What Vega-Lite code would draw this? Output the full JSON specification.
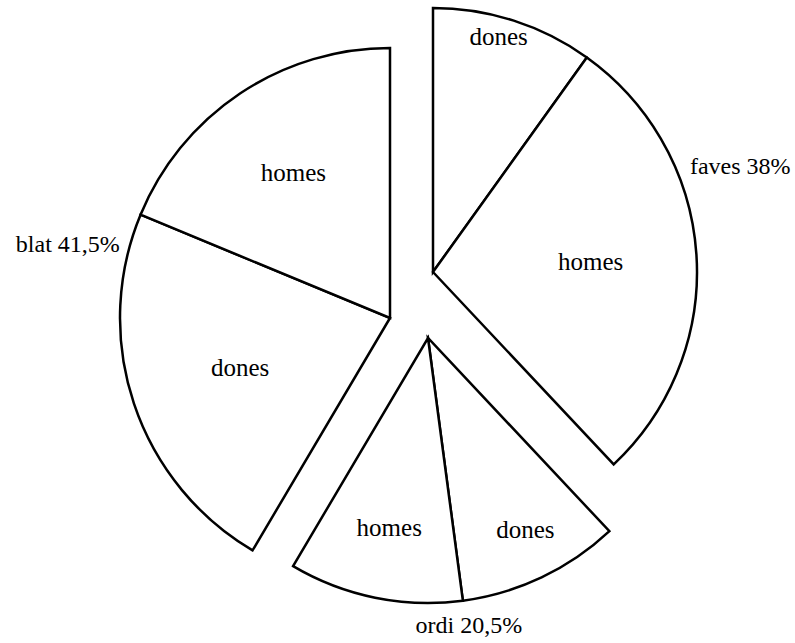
{
  "$schema": "https://vega.github.io/schema/vega-lite/v6.json",
  "width": 795,
  "height": 643,
  "padding": 0,
  "autosize": {"type": "none"},
  "background": "white",
  "config": {"view": {"stroke": null}},
  "datasets": {
    "slices": [
      {"idx": 0, "group": "faves", "sex": "dones", "value": 9.9},
      {"idx": 1, "group": "faves", "sex": "homes", "value": 28.1},
      {"idx": 2, "group": "ordi", "sex": "dones", "value": 9.9},
      {"idx": 3, "group": "ordi", "sex": "homes", "value": 10.6},
      {"idx": 4, "group": "blat", "sex": "dones", "value": 22.75},
      {"idx": 5, "group": "blat", "sex": "homes", "value": 18.75}
    ],
    "groups": [
      {"idx": 0, "group": "faves", "pct": 38, "label": "faves 38%"},
      {"idx": 1, "group": "ordi", "pct": 20.5, "label": "ordi 20,5%"},
      {"idx": 2, "group": "blat", "pct": 41.5, "label": "blat 41,5%"}
    ]
  },
  "layer": [
    {
      "data": {"name": "slices"},
      "mark": {"type": "arc", "outerRadius": 264, "fill": "white", "stroke": "black", "strokeWidth": 2.5, "strokeJoin": "miter", "xOffset": 35.5, "yOffset": -49.5},
      "encoding": {
        "theta": {"field": "value", "type": "quantitative", "stack": true},
        "order": {"field": "idx"},
        "opacity": {"condition": {"test": "datum.group === 'faves'", "value": 1}, "value": 0}
      }
    },
    {
      "data": {"name": "slices"},
      "mark": {"type": "arc", "outerRadius": 265, "fill": "white", "stroke": "black", "strokeWidth": 2.5, "strokeJoin": "miter", "xOffset": 30.5, "yOffset": 16.5},
      "encoding": {
        "theta": {"field": "value", "type": "quantitative", "stack": true},
        "order": {"field": "idx"},
        "opacity": {"condition": {"test": "datum.group === 'ordi'", "value": 1}, "value": 0}
      }
    },
    {
      "data": {"name": "slices"},
      "mark": {"type": "arc", "outerRadius": 270, "fill": "white", "stroke": "black", "strokeWidth": 2.5, "strokeJoin": "miter", "xOffset": -7.5, "yOffset": -3.5},
      "encoding": {
        "theta": {"field": "value", "type": "quantitative", "stack": true},
        "order": {"field": "idx"},
        "opacity": {"condition": {"test": "datum.group === 'blat'", "value": 1}, "value": 0}
      }
    },
    {
      "data": {"name": "slices"},
      "mark": {"type": "text", "radius": 247, "font": "Liberation Serif", "fontSize": 25, "color": "black", "xOffset": 35.5, "yOffset": -49.5, "dx": -10},
      "encoding": {
        "theta": {"field": "value", "type": "quantitative", "stack": true},
        "order": {"field": "idx"},
        "text": {"condition": {"test": "datum.idx === 0", "field": "sex"}, "value": ""}
      }
    },
    {
      "data": {"name": "slices"},
      "mark": {"type": "text", "radius": 158, "font": "Liberation Serif", "fontSize": 25, "color": "black", "xOffset": 35.5, "yOffset": -49.5},
      "encoding": {
        "theta": {"field": "value", "type": "quantitative", "stack": true},
        "order": {"field": "idx"},
        "text": {"condition": {"test": "datum.idx === 1", "field": "sex"}, "value": ""}
      }
    },
    {
      "data": {"name": "slices"},
      "mark": {"type": "text", "radius": 213, "font": "Liberation Serif", "fontSize": 25, "color": "black", "xOffset": 30.5, "yOffset": 16.5, "dx": 6},
      "encoding": {
        "theta": {"field": "value", "type": "quantitative", "stack": true},
        "order": {"field": "idx"},
        "text": {"condition": {"test": "datum.idx === 2", "field": "sex"}, "value": ""}
      }
    },
    {
      "data": {"name": "slices"},
      "mark": {"type": "text", "radius": 194, "font": "Liberation Serif", "fontSize": 25, "color": "black", "xOffset": 30.5, "yOffset": 16.5},
      "encoding": {
        "theta": {"field": "value", "type": "quantitative", "stack": true},
        "order": {"field": "idx"},
        "text": {"condition": {"test": "datum.idx === 3", "field": "sex"}, "value": ""}
      }
    },
    {
      "data": {"name": "slices"},
      "mark": {"type": "text", "radius": 158, "font": "Liberation Serif", "fontSize": 25, "color": "black", "xOffset": -7.5, "yOffset": -3.5},
      "encoding": {
        "theta": {"field": "value", "type": "quantitative", "stack": true},
        "order": {"field": "idx"},
        "text": {"condition": {"test": "datum.idx === 4", "field": "sex"}, "value": ""}
      }
    },
    {
      "data": {"name": "slices"},
      "mark": {"type": "text", "radius": 174, "font": "Liberation Serif", "fontSize": 25, "color": "black", "xOffset": -7.5, "yOffset": -3.5},
      "encoding": {
        "theta": {"field": "value", "type": "quantitative", "stack": true},
        "order": {"field": "idx"},
        "text": {"condition": {"test": "datum.idx === 5", "field": "sex"}, "value": ""}
      }
    },
    {
      "data": {"name": "groups"},
      "mark": {"type": "text", "radius": 324, "font": "Liberation Serif", "fontSize": 24, "color": "black", "xOffset": 35.5, "yOffset": -49.5, "dx": 6, "dy": 14},
      "encoding": {
        "theta": {"field": "pct", "type": "quantitative", "stack": true},
        "order": {"field": "idx"},
        "text": {"condition": {"test": "datum.group === 'faves'", "field": "label"}, "value": ""}
      }
    },
    {
      "data": {"name": "groups"},
      "mark": {"type": "text", "radius": 290, "font": "Liberation Serif", "fontSize": 24, "color": "black", "xOffset": 30.5, "yOffset": 16.5, "dx": 9},
      "encoding": {
        "theta": {"field": "pct", "type": "quantitative", "stack": true},
        "order": {"field": "idx"},
        "text": {"condition": {"test": "datum.group === 'ordi'", "field": "label"}, "value": ""}
      }
    },
    {
      "data": {"name": "groups"},
      "mark": {"type": "text", "radius": 334, "font": "Liberation Serif", "fontSize": 24, "color": "black", "xOffset": -7.5, "yOffset": -3.5, "dy": 15},
      "encoding": {
        "theta": {"field": "pct", "type": "quantitative", "stack": true},
        "order": {"field": "idx"},
        "text": {"condition": {"test": "datum.group === 'blat'", "field": "label"}, "value": ""}
      }
    }
  ]
}
